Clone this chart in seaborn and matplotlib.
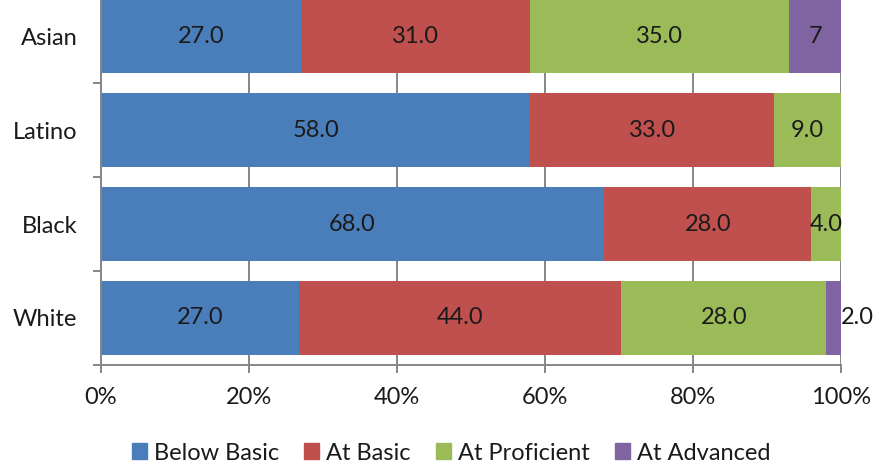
import numpy as np
import pandas as pd
import matplotlib
matplotlib.use("Agg")
import matplotlib.pyplot as plt
from matplotlib.ticker import FixedLocator, PercentFormatter
import seaborn as sns

# Reading achievement levels by group (raw percentages as reported)
groups = ["Asian", "Latino", "Black", "White"]
below_basic = [27.0, 58.0, 68.0, 27.0]
at_basic = [31.0, 33.0, 28.0, 44.0]
at_proficient = [35.0, 9.0, 4.0, 28.0]
at_advanced = [7.0, 0.0, 0.0, 2.0]

series_names = ["Below Basic", "At Basic", "At Proficient", "At Advanced"]
series_values = [below_basic, at_basic, at_proficient, at_advanced]
series_colors = ["#4A7EBB", "#C0504D", "#9BBB59", "#8064A2"]
# label text that is shown without a decimal place
label_overrides = {("Asian", "At Advanced"): "7"}

sns.set_theme(style="white")
plt.rcParams["font.family"] = ["Lato", "DejaVu Sans"]
text_color = "#1a1a1a"
line_color = "#868686"

raw = pd.DataFrame(dict(zip(series_names, series_values)), index=groups)
share = raw.div(raw.sum(axis=1), axis=0) * 100
cum = share.cumsum(axis=1)

fig = plt.figure(figsize=(8.75, 4.66), dpi=100)
ax = fig.add_axes([101 / 875, 1 - 365 / 466, 740 / 875, 376 / 466])

# draw cumulative totals from the outermost level inwards so the bars stack
for name, color in reversed(list(zip(series_names, series_colors))):
    df = pd.DataFrame({"group": groups, "end": cum[name].values})
    sns.barplot(data=df, x="end", y="group", order=groups, orient="h",
                color=color, saturation=1, width=0.78, ax=ax,
                linewidth=0, zorder=3)

# value labels centred in each segment
for i, g in enumerate(groups):
    start = 0.0
    for name in series_names:
        w = share.loc[g, name]
        v = raw.loc[g, name]
        if v > 0:
            txt = label_overrides.get((g, name), f"{v:.1f}")
            if w < 3:
                ax.text(start + w, i, txt, ha="left", va="center",
                        fontsize=17, color=text_color, zorder=5, clip_on=False)
            else:
                ax.text(start + w / 2, i, txt, ha="center", va="center",
                        fontsize=17, color=text_color, zorder=5, clip_on=False)
        start += w

ax.set_xlim(0, 100)
ax.set_ylim(3.5, -0.5)
ax.xaxis.set_major_locator(FixedLocator([0, 20, 40, 60, 80, 100]))
ax.xaxis.set_major_formatter(PercentFormatter(decimals=0))
ax.grid(axis="x", color=line_color, linewidth=1.4, zorder=1)
ax.grid(axis="y", visible=False)
ax.set_axisbelow(True)

ax.yaxis.set_minor_locator(FixedLocator([-0.5, 0.5, 1.5, 2.5, 3.5]))
ax.tick_params(axis="y", which="major", length=0, pad=17, labelsize=17,
               labelcolor=text_color)
ax.tick_params(axis="y", which="minor", left=True, length=6,
               width=1.4, color=line_color, direction="out")
ax.tick_params(axis="x", which="major", bottom=True, length=6, width=1.4,
               color=line_color, direction="out", pad=10, labelsize=17,
               labelcolor=text_color)

for side in ["top", "right"]:
    ax.spines[side].set_visible(False)
for side in ["left", "bottom"]:
    ax.spines[side].set_color(line_color)
    ax.spines[side].set_linewidth(1.4)
    ax.spines[side].set_zorder(4)
ax.set_xlabel("")
ax.set_ylabel("")

handles = [plt.Rectangle((0, 0), 1, 1, color=c) for c in series_colors]
fig.legend(handles, series_names, loc="center", ncol=4,
           bbox_to_anchor=(451 / 875, 1 - 453 / 466), frameon=False,
           fontsize=17, handlelength=0.65, handleheight=0.65,
           handletextpad=0.3, columnspacing=1.05, labelcolor=text_color,
           borderaxespad=0, borderpad=0)

fig.savefig("out.png", dpi=100)
